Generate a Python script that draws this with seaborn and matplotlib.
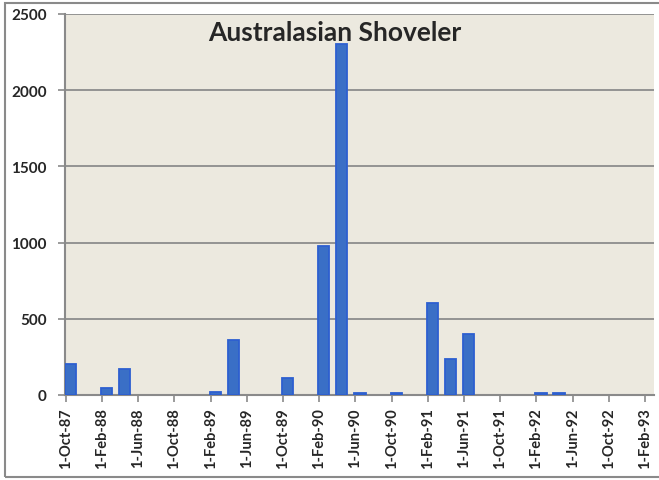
import pandas as pd
import seaborn as sns
import matplotlib
matplotlib.use('Agg')
from matplotlib import pyplot as plt
from matplotlib.patches import Rectangle

# monthly counts (only months with birds counted)
months = ['1987-10', '1988-02', '1988-04', '1989-02', '1989-04', '1989-10',
          '1990-02', '1990-04', '1990-06', '1990-10', '1991-02', '1991-04',
          '1991-06', '1992-02', '1992-04']
counts = [205, 45, 170, 20, 360, 110, 975, 2300, 15, 15, 605, 235, 400, 10, 15]

tick_start = '1987-10-01'
tick_end = '1993-02-01'
y_ticks = [0, 500, 1000, 1500, 2000, 2500]

sns.set_style('white')
plt.rcParams['font.family'] = ['Lato', 'DejaVu Sans']

start = pd.Period(tick_start, freq='M')
df = pd.DataFrame({'month': pd.PeriodIndex(months, freq='M'), 'count': counts})
# months since the first tick, bar sits in the middle of its month
df['x'] = [(m - start).n + 0.5 for m in df['month']]

tick_dates = pd.date_range(tick_start, tick_end, freq='4MS')
tick_pos = [(pd.Period(d, freq='M') - start).n for d in tick_dates]
tick_labels = [f"{d.day}-{d.strftime('%b-%y')}" for d in tick_dates]

fig = plt.figure(figsize=(6.59, 4.81), dpi=100)
fig.patches.append(Rectangle((5 / 659, 3 / 481), 1.0, 1 - 7 / 481,
                             transform=fig.transFigure, fill=False,
                             edgecolor='#8a8a8a', linewidth=1.5, zorder=0))
ax = fig.add_axes([65 / 659, 85 / 481, 589 / 659, 381 / 481])
ax.set_facecolor('#ece9df')

sns.barplot(data=df, x='x', y='count', native_scale=True, orient='x',
            width=0.62, color='#3a6fc6', edgecolor='#2d5fd0', linewidth=1.3,
            saturation=1, ax=ax, zorder=3)

ax.set_xlim(-0.1, 65)
ax.set_ylim(0, 2500)
ax.set_xticks(tick_pos)
ax.set_xticklabels(tick_labels, rotation=90, fontsize=10.5, fontweight='bold')
ax.set_yticks(y_ticks)
ax.set_yticklabels([str(v) for v in y_ticks], fontsize=11, fontweight='bold')
ax.tick_params(axis='both', direction='out', length=5, width=1.2,
               color='#8a8a8a', bottom=True, left=True, pad=4)
ax.tick_params(axis='y', pad=8)
ax.yaxis.grid(True, color='#8c8c8c', linewidth=1.3)
ax.set_axisbelow(True)
for s in ['top', 'right']:
    ax.spines[s].set_visible(False)
for s in ['left', 'bottom']:
    ax.spines[s].set_color('#8a8a8a')
    ax.spines[s].set_linewidth(1.5)
ax.set_xlabel('')
ax.set_ylabel('')
ax.text(0.458, 0.985, 'Australasian Shoveler', transform=ax.transAxes,
        ha='center', va='top', fontsize=19, fontweight='bold')

fig.savefig('out.png', dpi=100)
